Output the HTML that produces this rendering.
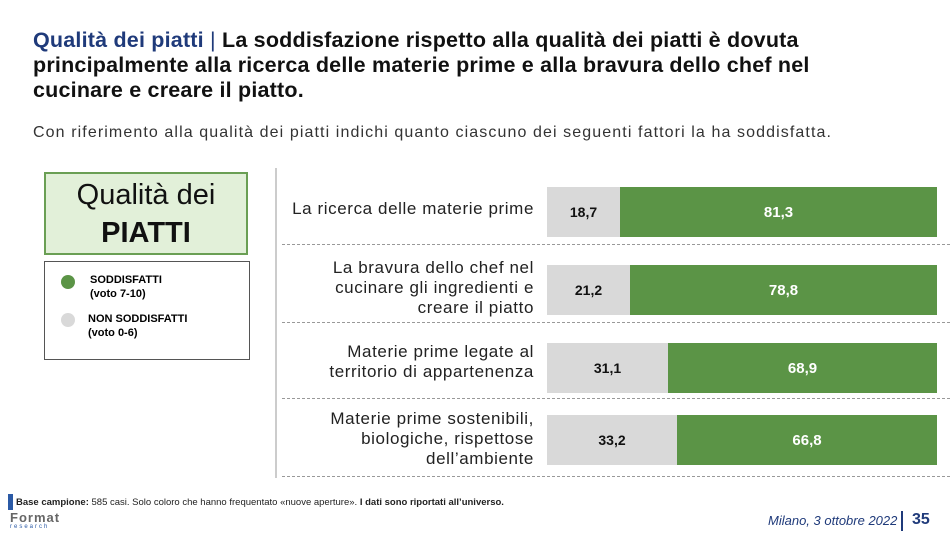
<!DOCTYPE html>
<html><head><meta charset="utf-8"><style>
body{margin:0;width:950px;height:535px;background:#fff;font-family:"Liberation Sans",sans-serif;position:relative;overflow:hidden}
.a{position:absolute}
.t{left:33px;top:28px;font-size:21.5px;font-weight:bold;line-height:25px;color:#111;letter-spacing:0.2px;white-space:nowrap}
.sub{left:33px;top:124px;font-size:16px;color:#333;letter-spacing:1.1px;white-space:nowrap}
.lab{right:416px;text-align:right;font-size:17px;color:#222;line-height:20px;letter-spacing:0.6px;white-space:nowrap}
.g{background:#d9d9d9;color:#111;font-weight:bold;font-size:14px;display:flex;align-items:center;justify-content:center;height:50px}
.v{background:#5b9446;color:#fff;font-weight:bold;font-size:15px;display:flex;align-items:center;justify-content:center;height:50px}
.d{left:282px;width:668px;border-top:1px dashed #999;height:0}
</style></head><body>
<div class="a t"><span style="color:#1f3a7a">Qualità dei piatti</span> <span style="color:#1f3a7a;font-weight:normal">|</span> La soddisfazione rispetto alla qualità dei piatti è dovuta<br>principalmente alla ricerca delle materie prime e alla bravura dello chef nel<br>cucinare e creare il piatto.</div>
<div class="a sub">Con riferimento alla qualità dei piatti indichi quanto ciascuno dei seguenti fattori la ha soddisfatta.</div>
<div class="a" style="left:44px;top:172px;width:204px;height:83px;background:#e2f0d9;border:2px solid #6a9f54;text-align:center;font-size:29px;line-height:38px;color:#111;padding-top:2px;box-sizing:border-box">Qualità dei<br><b>PIATTI</b></div>
<div class="a" style="left:44px;top:261px;width:206px;height:99px;border:1px solid #555;box-sizing:border-box"></div>
<div class="a" style="left:61px;top:275px;width:14px;height:14px;border-radius:50%;background:#5b9446"></div>
<div class="a" style="left:61px;top:313px;width:14px;height:14px;border-radius:50%;background:#d9d9d9"></div>
<div class="a" style="left:90px;top:273px;font-size:11px;font-weight:bold;line-height:14px">SODDISFATTI<br>(voto 7-10)</div>
<div class="a" style="left:88px;top:312px;font-size:11px;font-weight:bold;line-height:14px">NON SODDISFATTI<br>(voto 0-6)</div>
<div class="a" style="left:275px;top:168px;width:2px;height:310px;background:#ccc"></div>
<div class="a d" style="top:244px"></div><div class="a d" style="top:322px"></div><div class="a d" style="top:398px"></div><div class="a d" style="top:476px"></div>
<div class="a lab" style="top:199px">La ricerca delle materie prime</div>
<div class="a lab" style="top:258px">La bravura dello chef nel<br>cucinare gli ingredienti e<br>creare il piatto</div>
<div class="a lab" style="top:342px">Materie prime legate al<br>territorio di appartenenza</div>
<div class="a lab" style="top:409px">Materie prime sostenibili,<br>biologiche, rispettose<br>dell’ambiente</div>
<div class="a" style="left:547px;top:187px;display:flex;width:390px"><div class="g" style="width:73px">18,7</div><div class="v" style="flex:1">81,3</div></div>
<div class="a" style="left:547px;top:265px;display:flex;width:390px"><div class="g" style="width:83px">21,2</div><div class="v" style="flex:1">78,8</div></div>
<div class="a" style="left:547px;top:343px;display:flex;width:390px"><div class="g" style="width:121px">31,1</div><div class="v" style="flex:1">68,9</div></div>
<div class="a" style="left:547px;top:415px;display:flex;width:390px"><div class="g" style="width:130px">33,2</div><div class="v" style="flex:1">66,8</div></div>
<div class="a" style="left:8px;top:494px;width:5px;height:16px;background:#2b5aa6"></div>
<div class="a" style="left:16px;top:497px;font-size:9.5px;color:#222;white-space:nowrap"><b>Base campione:</b> 585 casi. Solo coloro che hanno frequentato «nuove aperture». <b>I dati sono riportati all’universo.</b></div>
<div class="a" style="left:10px;top:510px;font-size:13px;font-weight:bold;color:#666;letter-spacing:1px">Format</div>
<div class="a" style="left:10px;top:524px;font-size:6px;color:#2b5aa6;letter-spacing:2px">research</div>
<div class="a" style="left:768px;top:513px;font-size:13px;font-style:italic;color:#1f3a7a">Milano, 3 ottobre 2022</div>
<div class="a" style="left:901px;top:511px;width:2px;height:20px;background:#1f3a7a"></div>
<div class="a" style="left:912px;top:511px;font-size:16px;font-weight:bold;color:#1f3a7a">35</div>
</body></html>
